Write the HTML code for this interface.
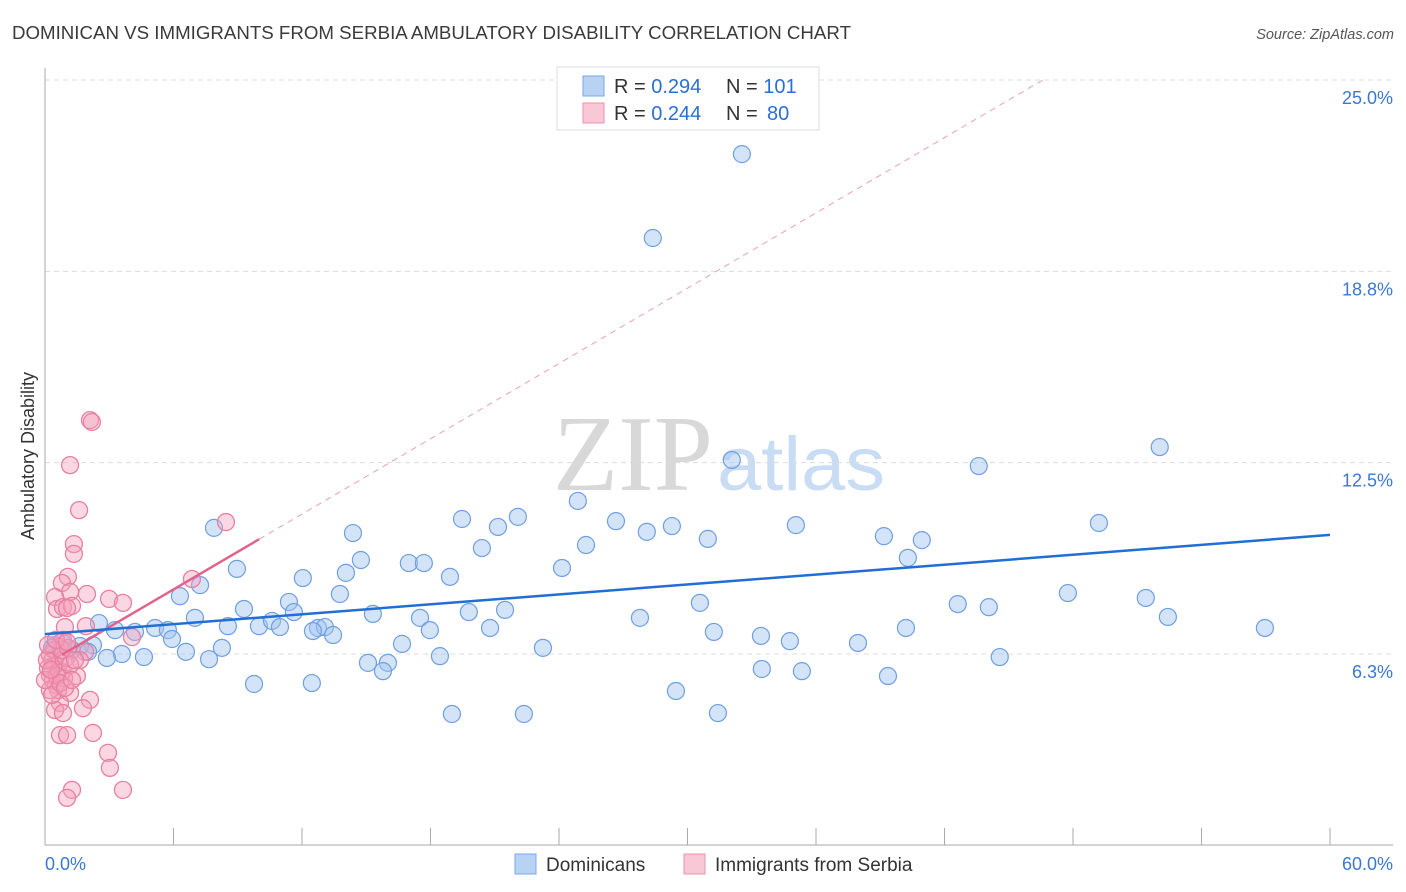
<!DOCTYPE html>
<html><head><meta charset="utf-8"><style>
body{margin:0;background:#fff;font-family:"Liberation Sans",sans-serif}
svg{display:block}
</style></head><body>
<svg id="chart" width="1406" height="892" viewBox="0 0 1406 892" xmlns="http://www.w3.org/2000/svg">
<text x="12" y="39" font-size="18.6" fill="#3a3a3a" textLength="839" lengthAdjust="spacingAndGlyphs">DOMINICAN VS IMMIGRANTS FROM SERBIA AMBULATORY DISABILITY CORRELATION CHART</text>
<text x="1394" y="39" font-size="14.5" font-style="italic" fill="#555" text-anchor="end">Source: ZipAtlas.com</text>
<g>
<text x="553" y="490" font-family="Liberation Serif,serif" font-size="108" fill="#d8d8d8" textLength="160" lengthAdjust="spacingAndGlyphs">ZIP</text>
<text x="717" y="490" font-size="76" fill="#c8dcf4" textLength="168" lengthAdjust="spacingAndGlyphs">atlas</text>
</g>
<g id="grid"></g>
<g id="axes"></g>
<g id="marks"></g>
<g>
<rect x="557" y="67" width="262" height="63" fill="#fff" stroke="#ddd"/>
<rect x="583" y="76" width="21" height="20" fill="#b8d2f4" stroke="#7aa8e6"/>
<rect x="583" y="103" width="21" height="20" fill="#f9c8d6" stroke="#ec92ae"/>
<text x="614" y="93" font-size="20" fill="#333">R = <tspan fill="#2a6fd4">0.294</tspan><tspan x="726">N = </tspan><tspan fill="#2a6fd4">101</tspan></text>
<text x="614" y="120" font-size="20" fill="#333">R = <tspan fill="#2a6fd4">0.244</tspan><tspan x="726">N = </tspan><tspan fill="#2a6fd4" x="767">80</tspan></text>
</g>
<g>
<rect x="515" y="854" width="21" height="20" fill="#b8d2f4" stroke="#7aa8e6"/>
<text x="546" y="871" font-size="19" fill="#333">Dominicans</text>
<rect x="684" y="854" width="21" height="20" fill="#f9c8d6" stroke="#ec92ae"/>
<text x="715" y="871" font-size="19" fill="#333">Immigrants from Serbia</text>
</g>
<text transform="translate(34,456) rotate(-90)" font-size="18" fill="#333" text-anchor="middle">Ambulatory Disability</text>
</svg>
<script>
const yTicks=[6.25,12.5,18.75,25];
const yTickLabels=["6.3%","12.5%","18.8%","25.0%"];
const xTickValues=[0,6,12,18,24,30,36,42,48,54,60];
const blueX=[32.54,28.38,52.05,32.07,43.60,24.88,19.47,22.08,26.66,21.15,29.27,35.06,49.21,7.89,14.38,28.10,39.17,40.94,30.95,20.40,25.26,40.29,14.75,8.96,16.99,17.69,24.14,14.05,12.04,18.91,7.24,6.30,13.77,47.76,51.40,9.29,11.39,11.62,30.58,42.62,44.07,19.79,21.48,15.31,7.00,17.51,27.78,52.43,2.52,8.54,9.99,10.60,10.97,12.75,13.07,5.14,5.74,3.27,4.20,20.78,17.97,31.23,40.20,56.96,12.51,13.45,33.43,34.78,37.96,5.93,16.67,8.26,23.25,2.24,1.63,0.79,0.47,0.33,1.26,2.01,6.58,3.59,4.62,2.89,7.66,18.44,44.58,15.08,16.01,15.78,33.47,35.34,39.36,9.76,12.46,29.46,19.00,22.36,31.42];
const blueY=[22.58,19.84,13.01,12.59,12.39,11.25,10.66,10.73,10.59,10.40,10.43,10.46,10.53,10.37,10.20,10.24,10.10,9.97,10.01,9.71,9.81,9.39,9.32,9.03,9.22,9.22,9.06,8.90,8.73,8.77,8.50,8.14,8.21,8.24,8.08,7.72,7.95,7.62,7.92,7.88,7.78,7.62,7.69,7.56,7.43,7.43,7.43,7.46,7.26,7.16,7.16,7.33,7.13,7.10,7.13,7.10,7.03,7.03,6.97,7.10,7.03,6.97,7.10,7.10,7.00,6.87,6.84,6.67,6.61,6.74,6.58,6.45,6.45,6.54,6.51,6.64,6.54,6.45,6.38,6.32,6.32,6.25,6.15,6.12,6.08,6.18,6.15,5.96,5.96,5.69,5.76,5.69,5.53,5.27,5.30,5.04,4.29,4.29,4.32];
const pinkX=[2.10,2.19,1.17,1.59,1.35,1.35,8.45,6.86,1.07,0.79,1.17,1.96,2.99,3.64,0.47,0.56,0.84,1.26,1.03,0.93,1.91,0.84,0.70,1.87,1.63,1.49,1.17,2.10,0.70,0.47,1.77,0.84,0.70,1.03,2.24,2.94,3.03,1.26,1.03,3.64,4.06,0.23,0.33,0.47,0.61,0.23,0.37,0.51,0.70,0.79,0.14,0.89,0.61,0.23,0.98,0.42,0.79,1.17,0.09,0.56,0.33,0.70,1.07,0.93,1.26,0.14,0.51,1.03,1.40,0,0.28];
const pinkY=[13.89,13.83,12.42,10.95,9.84,9.52,10.56,8.70,8.77,8.57,8.28,8.21,8.05,7.92,8.11,7.72,7.78,7.82,7.75,7.13,7.16,6.71,6.48,6.32,6.05,5.53,4.98,4.75,4.65,4.42,4.48,4.32,3.60,3.60,3.67,3.02,2.53,1.81,1.55,1.81,6.80,6.22,6.05,5.89,5.73,5.56,5.40,5.24,5.98,5.66,5.79,5.46,5.07,5.07,6.12,6.38,6.38,5.89,6.05,5.53,4.91,5.30,6.45,5.14,5.40,6.54,6.71,6.64,6.05,5.40,5.73];
const blueTrend=[6.90,10.14];     // y at x=0 and x=60
const pinkTrendIntercept=5.90, pinkTrendSlope=0.41, pinkSolidEnd=10.0;

const X0=45,X1=1330,Y0=845.3,PXY=30.61;
const sx=v=>X0+v*(X1-X0)/60;
const sy=v=>Y0-v*PXY;
const NS="http://www.w3.org/2000/svg";
function mk(tag,attrs,parent){const e=document.createElementNS(NS,tag);for(const k in attrs)e.setAttribute(k,attrs[k]);parent.appendChild(e);return e;}
const grid=document.getElementById('grid'),axes=document.getElementById('axes'),marks=document.getElementById('marks');
yTicks.forEach((t,i)=>{
  const l=mk('line',{x1:X0,x2:1393,y1:sy(t),y2:sy(t),stroke:'#dcdcdc','stroke-dasharray':'5,4'},grid);
  
  
  const tx=mk('text',{x:1393,y:sy(t)+24,'font-size':18,fill:'#3a78d4','text-anchor':'end'},axes);
  tx.textContent=yTickLabels[i];
  
  
});
const ax=mk('line',{x1:X0,x2:X0,y1:68,y2:845,stroke:'#aaa'},axes);


const bx=mk('line',{x1:X0,x2:1393,y1:845,y2:845,stroke:'#aaa'},axes);


xTickValues.forEach(v=>{
  const t=mk('line',{x1:sx(v),x2:sx(v),y1:828,y2:845,stroke:'#aaa'},axes);
  
  
});
const xl0=mk('text',{x:45,y:870,'font-size':18,fill:'#3a78d4'},axes);xl0.textContent='0.0%';


const xl1=mk('text',{x:1393,y:870,'font-size':18,fill:'#3a78d4','text-anchor':'end'},axes);xl1.textContent='60.0%';



blueX.forEach((x,i)=>{
  const c=mk('circle',{cx:sx(x),cy:sy(blueY[i]),r:8.5,fill:'rgba(160,196,240,0.45)',stroke:'#6f9fe0','stroke-width':1.2},marks);
  
  
});
pinkX.forEach((x,i)=>{
  const c=mk('circle',{cx:sx(x),cy:sy(pinkY[i]),r:8.5,fill:'rgba(244,160,188,0.42)',stroke:'#e8809f','stroke-width':1.3},marks);
  
  
});
const pe=(25-pinkTrendIntercept)/pinkTrendSlope;
const pd=mk('line',{x1:sx(pinkSolidEnd),y1:sy(pinkTrendIntercept+pinkTrendSlope*pinkSolidEnd),x2:sx(pe),y2:sy(25),stroke:'#e9a0b8','stroke-width':1,'stroke-dasharray':'6,5'},marks);


const ps=mk('line',{x1:sx(0.8),y1:sy(pinkTrendIntercept+pinkTrendSlope*0.8),x2:sx(pinkSolidEnd),y2:sy(pinkTrendIntercept+pinkTrendSlope*pinkSolidEnd),stroke:'#e2628e','stroke-width':2.5},marks);


const bl=mk('line',{x1:sx(0),y1:sy(blueTrend[0]),x2:sx(60),y2:sy(blueTrend[1]),stroke:'#1f6fd6','stroke-width':2.5},marks);


</script>
</body></html>
